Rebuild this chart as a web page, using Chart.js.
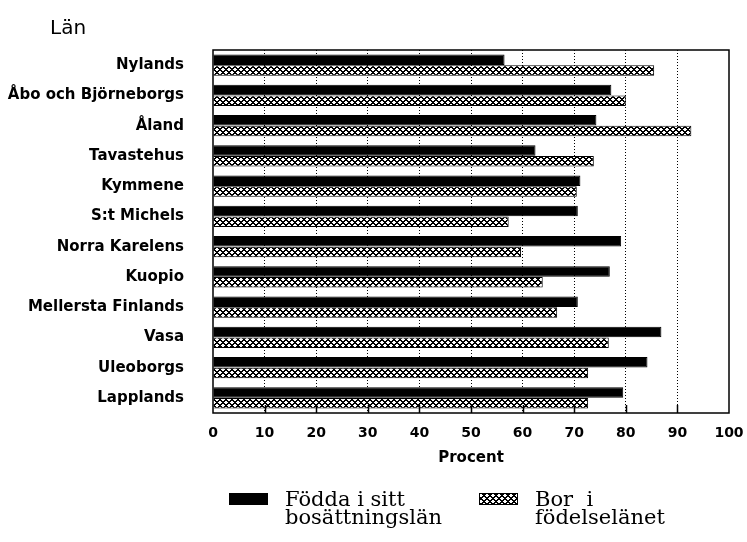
<!DOCTYPE html>
<html>
<head>
<meta charset="utf-8">
<script src="https://cdn.jsdelivr.net/npm/chart.js@4.4.0/dist/chart.umd.min.js"></script>
<style>
  html, body { margin: 0; padding: 0; background: #fff; }
  #wrap { width: 747px; height: 542px; }
</style>
</head>
<body>
<div id="wrap"><canvas id="lan" width="747" height="542"></canvas></div>
<script>
const counties = [
  'Nylands', 'Åbo och Björneborgs', 'Åland', 'Tavastehus', 'Kymmene',
  'S:t Michels', 'Norra Karelens', 'Kuopio', 'Mellersta Finlands', 'Vasa',
  'Uleoborgs', 'Lapplands'
];
// Födda i sitt bosättningslän (%)
const bornInCounty = [56.5, 77.2, 74.3, 62.5, 71.2, 70.7, 79.1, 76.9, 70.7, 86.9, 84.2, 79.5];
// Bor i födelselänet (%)
const livesInBirthCounty = [85.5, 80.0, 92.7, 73.8, 70.5, 57.3, 59.7, 63.9, 66.7, 76.7, 72.7, 72.7];
const xMin = 0, xMax = 100, xStep = 10;

const canvas = document.getElementById('lan');
const ctx = canvas.getContext('2d');

// diagonal cross-hatch (2px lines, 6px period) for the second series
function makeHatch() {
  const n = 6;
  const tile = document.createElement('canvas');
  tile.width = n; tile.height = n;
  const g = tile.getContext('2d');
  g.fillStyle = '#fff';
  g.fillRect(0, 0, n, n);
  g.fillStyle = '#000';
  for (let y = 0; y < n; y++) {
    for (let x = 0; x < n; x++) {
      if ((x + y) % n < 2 || (x - y + 2 * n) % n < 2) g.fillRect(x, y, 1, 1);
    }
  }
  return ctx.createPattern(tile, 'repeat');
}
const hatch = makeHatch();

const frame = {
  id: 'frame',
  afterDraw(chart) {
    const { ctx, chartArea: a, scales } = chart;
    ctx.save();
    ctx.strokeStyle = '#000';
    ctx.lineWidth = 1.5;
    ctx.strokeRect(a.left, a.top, a.right - a.left, a.bottom - a.top);

    // short inward ticks along the bottom edge
    ctx.beginPath();
    for (let v = xMin + xStep; v < xMax; v += xStep) {
      const x = Math.round(scales.x.getPixelForValue(v)) + 0.5;
      ctx.moveTo(x, a.bottom);
      ctx.lineTo(x, a.bottom - 8);
    }
    ctx.stroke();

    // "Län" heading above the county labels
    ctx.fillStyle = '#000';
    ctx.font = '20px "DejaVu Sans"';
    ctx.textBaseline = 'alphabetic';
    ctx.textAlign = 'left';
    ctx.fillText('Län', 50, 34);

    // legend below the axis
    const items = [
      { fill: '#000', x: 229, lines: ['Födda i sitt', 'bosättningslän'] },
      { fill: hatch, x: 479, lines: ['Bor  i', 'födelselänet'] }
    ];
    ctx.font = '21px "DejaVu Serif"';
    items.forEach(it => {
      ctx.fillStyle = it.fill;
      ctx.fillRect(it.x, 493, 39, 12);
      ctx.strokeStyle = '#000';
      ctx.lineWidth = 1;
      ctx.strokeRect(it.x + 0.5, 493.5, 38, 11);
      ctx.fillStyle = '#000';
      it.lines.forEach((t, i) => ctx.fillText(t, it.x + 56, 506 + i * 18));
    });
    ctx.restore();
  }
};

new Chart(ctx, {
  type: 'bar',
  data: {
    labels: counties,
    datasets: [
      {
        label: 'Födda i sitt bosättningslän',
        data: bornInCounty,
        backgroundColor: '#000',
        borderColor: '#000',
        borderWidth: 1,
        categoryPercentage: 0.72,
        barPercentage: 0.96
      },
      {
        label: 'Bor i födelselänet',
        data: livesInBirthCounty,
        backgroundColor: hatch,
        borderColor: '#000',
        borderWidth: 1,
        categoryPercentage: 0.72,
        barPercentage: 0.96
      }
    ]
  },
  options: {
    indexAxis: 'y',
    responsive: false,
    animation: false,
    layout: { padding: { top: 50, right: 18, bottom: 72, left: 0 } },
    plugins: {
      legend: { display: false },
      tooltip: { enabled: false }
    },
    scales: {
      x: {
        min: xMin,
        max: xMax,
        ticks: {
          stepSize: xStep,
          color: '#000',
          padding: 12,
          maxRotation: 0,
          font: { family: 'DejaVu Sans', size: 14, weight: 'bold' }
        },
        grid: {
          drawTicks: false,
          lineWidth: 1,
          color: c => (c.tick && (c.tick.value === xMin || c.tick.value === xMax)) ? 'rgba(0,0,0,0)' : '#000'
        },
        border: { display: false, dash: [1, 2] },
        title: {
          display: true,
          text: 'Procent',
          color: '#000',
          padding: { top: 0, bottom: 3 },
          font: { family: 'DejaVu Sans', size: 15, weight: 'bold' }
        },
        afterFit: s => {
          s.height = 57;
          s.paddingRight = 0;
        }
      },
      y: {
        ticks: {
          color: '#000',
          padding: 21,
          font: { family: 'DejaVu Sans', size: 15, weight: 'bold' }
        },
        grid: { display: false },
        border: { display: false },
        afterFit: s => { s.width = 213; }
      }
    }
  },
  plugins: [frame]
});
</script>
</body>
</html>
